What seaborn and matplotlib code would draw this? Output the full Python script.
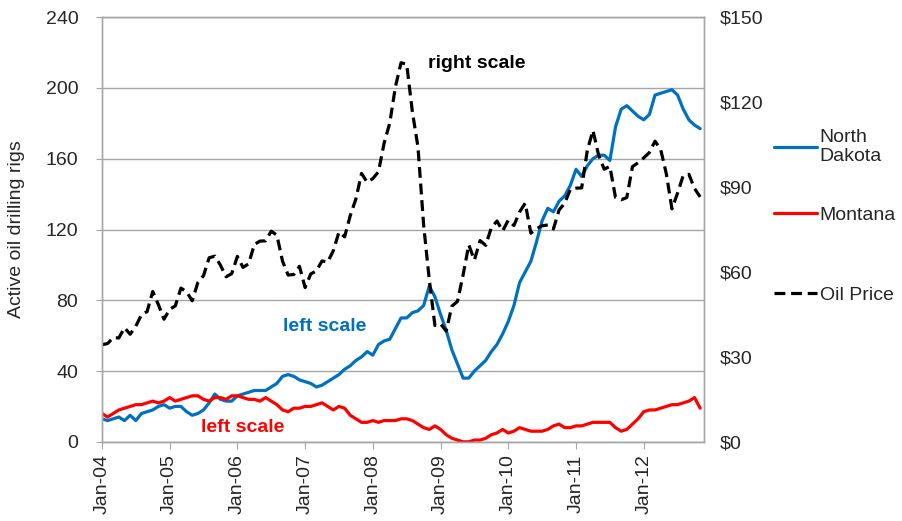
import matplotlib
matplotlib.use("Agg")
import matplotlib.pyplot as plt
import seaborn as sns
import numpy as np
import pandas as pd

# Data: monthly, Jan-04 .. Nov-12

north_dakota = [
    13, 12, 13, 14, 12, 15, 12, 16, 17, 18, 20, 21,
    19, 20, 20, 17, 15, 16, 18, 22, 27, 24, 23, 23,
    26, 27, 28, 29, 29, 29, 31, 33, 37, 38, 37, 35,
    34, 33, 31, 32, 34, 36, 38, 41, 43, 46, 48, 51,
    49, 55, 57, 58, 64, 70, 70, 73, 74, 77, 88, 82,
    72, 63, 52, 44, 36, 36, 40, 43, 46, 51, 55, 61,
    68, 77, 90, 96, 102, 113, 125, 132, 130, 136, 139, 145,
    154, 150, 156, 160, 162, 162, 159, 178, 188, 190, 187, 184,
    182, 185, 196, 197, 198, 199, 196, 188, 182, 179, 177,
]

montana = [
    16, 14, 16, 18, 19, 20, 21, 21, 22, 23, 22, 23,
    25, 23, 24, 25, 26, 26, 24, 23, 25, 25, 24, 26,
    26, 25, 24, 24, 23, 25, 23, 21, 18, 17, 19, 19,
    20, 20, 21, 22, 20, 18, 20, 19, 15, 13, 11, 11,
    12, 11, 12, 12, 12, 13, 13, 12, 10, 8, 7, 9,
    7, 4, 2, 1, 0, 0, 1, 1, 2, 4, 5, 7,
    5, 6, 8, 7, 6, 6, 6, 7, 9, 10, 8, 8,
    9, 9, 10, 11, 11, 11, 11, 8, 6, 7, 10, 13,
    17, 18, 18, 19, 20, 21, 21, 22, 23, 25, 19,
]

oil_price = [
    34.3, 34.7, 36.8, 36.7, 40.3, 38.0, 40.8, 44.9, 46.0, 53.1, 48.5, 43.3,
    46.8, 48.0, 54.3, 53.0, 49.8, 56.3, 58.7, 65.0, 65.6, 62.4, 58.3, 59.4,
    65.5, 61.6, 62.9, 69.7, 70.9, 71.0, 74.4, 73.0, 63.8, 58.9, 59.1, 62.0,
    54.5, 59.3, 60.4, 63.9, 63.5, 67.5, 74.1, 72.4, 79.9, 85.8, 94.8, 91.7,
    93.0, 95.4, 105.5, 112.6, 125.4, 133.9, 133.4, 116.7, 104.1, 76.6, 57.3, 41.1,
    41.7, 39.1, 47.9, 49.6, 59.0, 69.6, 64.2, 71.1, 69.4, 75.7, 78.0, 74.5,
    78.3, 76.4, 81.2, 84.3, 73.7, 75.3, 76.3, 76.6, 75.2, 81.9, 84.3, 89.2,
    89.6, 89.7, 102.9, 110.0, 101.3, 96.3, 97.3, 86.3, 85.5, 86.3, 97.2, 98.6,
    100.3, 102.2, 106.2, 103.3, 94.7, 82.3, 87.9, 94.1, 94.5, 89.5, 86.5,
]

tick_labels = ["Jan-04", "Jan-05", "Jan-06", "Jan-07", "Jan-08",
               "Jan-09", "Jan-10", "Jan-11", "Jan-12"]

months = np.arange(len(north_dakota))

df = pd.DataFrame({
    "month": months,
    "North Dakota": north_dakota,
    "Montana": montana,
    "Oil Price": oil_price,
})

# Style

sns.set_style("white")
plt.rcParams["font.family"] = ["Liberation Sans", "DejaVu Sans"]

blue = "#0070C0"
red = "#FF0000"
grid_gray = "#A6A6A6"
fs = 14

fig = plt.figure(figsize=(9.02, 5.21), dpi=100)
ax = fig.add_axes([0.113, 0.152, 0.667, 0.815])
ax2 = ax.twinx()

# Lines

sns.lineplot(data=df, x="month", y="North Dakota", ax=ax,
             color=blue, linewidth=2.3, legend=False)
sns.lineplot(data=df, x="month", y="Montana", ax=ax,
             color=red, linewidth=2.3, legend=False)
sns.lineplot(data=df, x="month", y="Oil Price", ax=ax2,
             color="black", linewidth=2.3, legend=False)
ax2.lines[0].set_dashes((3.4, 1.8))

# Axes

ax.set_xlim(0, 106.6)
ax.set_ylim(0, 240)
ax2.set_ylim(0, 150)

ax.set_yticks(np.arange(0, 241, 40))
ax2.set_yticks(np.arange(0, 151, 30))
ax2.set_yticklabels([f"${v}" for v in range(0, 151, 30)])

ax.set_xticks(np.arange(0, 97, 12))
ax.set_xticklabels(tick_labels, rotation=90)

ax.set_xlabel("")
ax.set_ylabel("Active oil drilling rigs", fontsize=fs, labelpad=15)
ax2.set_ylabel("")

ax.yaxis.grid(True, color=grid_gray, linewidth=1)
ax.set_axisbelow(True)

for a in (ax, ax2):
    for s in a.spines.values():
        s.set_color(grid_gray)
        s.set_linewidth(1)

ax.tick_params(axis="x", which="both", length=5, color=grid_gray,
               labelsize=fs, pad=4, bottom=True)
ax.tick_params(axis="y", length=4, color=grid_gray, labelsize=fs, pad=13,
               left=True)
ax2.tick_params(axis="y", length=0, labelsize=fs, pad=12)

# Annotations

ax.text(57.8, 214, "right scale", color="black", fontsize=fs,
        fontweight="bold", ha="left", va="center")
ax.text(32.1, 65, "left scale", color=blue, fontsize=fs,
        fontweight="bold", ha="left", va="center")
ax.text(17.5, 8, "left scale", color=red, fontsize=fs,
        fontweight="bold", ha="left", va="center")

# Legend (one entry per call so the uneven spacing can be matched)

entries = [
    (ax.get_lines()[0], "North\nDakota", 0.718),
    (ax.get_lines()[1], "Montana", 0.587),
    (ax2.get_lines()[0], "Oil Price", 0.434),
]
for handle, text, ypos in entries:
    fig.legend([handle], [text], loc="center left",
               bbox_to_anchor=(0.858, ypos), frameon=False, fontsize=fs,
               handlelength=2.2, handletextpad=0.15, borderpad=0,
               borderaxespad=0)

fig.savefig("out.png", dpi=100)
